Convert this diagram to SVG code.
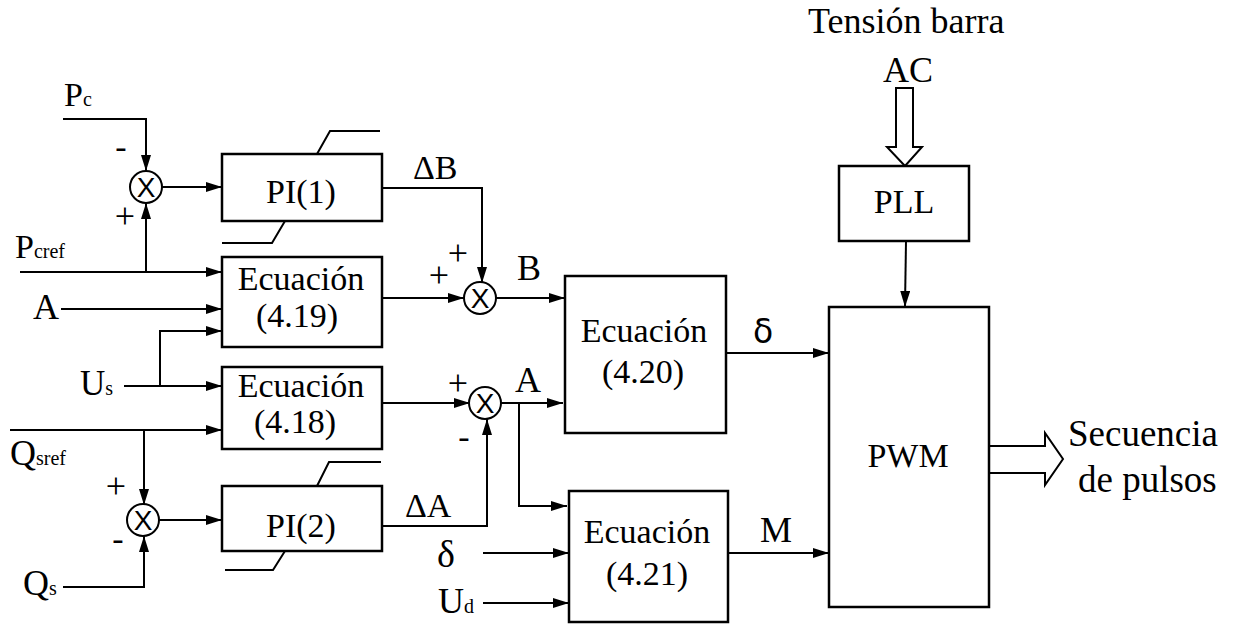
<svg xmlns="http://www.w3.org/2000/svg" width="1236" height="626" viewBox="0 0 1236 626">
<style>
.box{fill:#fff;stroke:#000;stroke-width:2.5}
.ln{fill:none;stroke:#000;stroke-width:2}
.sat{fill:none;stroke:#000;stroke-width:2}
.sum{fill:#fff;stroke:#000;stroke-width:2}
.t{font-family:"Liberation Serif","Times New Roman",serif;fill:#000}
.bt{font-family:"Liberation Serif","Times New Roman",serif;font-size:34px;fill:#000;text-anchor:middle}
.x{font-family:"Liberation Sans",Arial,sans-serif;font-size:28px;text-anchor:middle;fill:#000}
.sub{font-size:20px}
.hollow{fill:#fff;stroke:#000;stroke-width:2}
</style>
<defs>
<marker id="ah" markerUnits="userSpaceOnUse" markerWidth="16" markerHeight="10" viewBox="0 0 16 10" refX="16" refY="5" orient="auto">
<path d="M0,0 L16,5 L0,10 z" fill="#000"/>
</marker>
</defs>
<rect width="1236" height="626" fill="#fff"/>

<g id="connectors">
<polyline class="ln" points="63,119 146,119 146,171" marker-end="url(#ah)"/>
<line class="ln" x1="20" y1="272" x2="222" y2="272" marker-end="url(#ah)"/>
<line class="ln" x1="146" y1="272" x2="146" y2="203" marker-end="url(#ah)"/>
<line class="ln" x1="161" y1="187" x2="222" y2="187" marker-end="url(#ah)"/>
<line class="ln" x1="61" y1="309" x2="222" y2="309" marker-end="url(#ah)"/>
<line class="ln" x1="124" y1="386" x2="222" y2="386" marker-end="url(#ah)"/>
<polyline class="ln" points="160,386 160,331 222,331" marker-end="url(#ah)"/>
<line class="ln" x1="10" y1="430" x2="222" y2="430" marker-end="url(#ah)"/>
<line class="ln" x1="144" y1="430" x2="144" y2="505" marker-end="url(#ah)"/>
<polyline class="ln" points="63,587 144,587 144,536" marker-end="url(#ah)"/>
<line class="ln" x1="159" y1="520" x2="222" y2="520" marker-end="url(#ah)"/>
<polyline class="ln" points="382,188 482,188 482,283" marker-end="url(#ah)"/>
<line class="ln" x1="382" y1="298" x2="464" y2="298" marker-end="url(#ah)"/>
<line class="ln" x1="495" y1="298" x2="565" y2="298" marker-end="url(#ah)"/>
<line class="ln" x1="382" y1="403" x2="470" y2="403" marker-end="url(#ah)"/>
<line class="ln" x1="500" y1="403" x2="563" y2="403" marker-end="url(#ah)"/>
<polyline class="ln" points="519,403 519,506 567,506" marker-end="url(#ah)"/>
<polyline class="ln" points="382,526 487,526 487,419" marker-end="url(#ah)"/>
<line class="ln" x1="483" y1="553" x2="569" y2="553" marker-end="url(#ah)"/>
<line class="ln" x1="483" y1="603" x2="569" y2="603" marker-end="url(#ah)"/>
<line class="ln" x1="726" y1="353" x2="829" y2="353" marker-end="url(#ah)"/>
<line class="ln" x1="728" y1="553" x2="829" y2="553" marker-end="url(#ah)"/>
<line class="ln" x1="906" y1="241" x2="905" y2="307" marker-end="url(#ah)"/>
<path class="hollow" d="M896,88 H913 V147 H922 L905,166 L887,147 H896 Z"/>
<path class="hollow" d="M989,446 H1045 V433 L1063,459 L1045,485 V473 H989"/>
</g>

<g id="sum1"><circle class="sum" cx="146" cy="187" r="16"/><text class="x" x="146" y="197">X</text></g>
<g id="sum2"><circle class="sum" cx="143" cy="520" r="16"/><text class="x" x="143" y="530">X</text></g>
<g id="sum3"><circle class="sum" cx="480" cy="298" r="16"/><text class="x" x="480" y="308">X</text></g>
<g id="sum4"><circle class="sum" cx="485" cy="403" r="16"/><text class="x" x="485" y="413">X</text></g>

<g id="pi1">
<rect class="box" x="222" y="154" width="160" height="67"/>
<polyline class="sat" points="317,154 330,131 380,131"/>
<polyline class="sat" points="285,221 272,243 222,243"/>
<text class="bt" x="301" y="203">PI(1)</text>
</g>
<g id="pi2">
<rect class="box" x="222" y="486" width="160" height="65"/>
<polyline class="sat" points="317,486 329,462 381,462"/>
<polyline class="sat" points="285,551 273,570 225,570"/>
<text class="bt" x="301" y="537">PI(2)</text>
</g>
<g id="ec419">
<rect class="box" x="222" y="257" width="160" height="90"/>
<text class="bt" x="301" y="290">Ecuación</text>
<text class="bt" x="297" y="327">(4.19)</text>
</g>
<g id="ec418">
<rect class="box" x="222" y="367" width="160" height="82"/>
<text class="bt" x="301" y="397">Ecuación</text>
<text class="bt" x="295" y="433">(4.18)</text>
</g>
<g id="ec420">
<rect class="box" x="565" y="276" width="161" height="157"/>
<text class="bt" x="644" y="342">Ecuación</text>
<text class="bt" x="643" y="383">(4.20)</text>
</g>
<g id="ec421">
<rect class="box" x="569" y="491" width="159" height="131"/>
<text class="bt" x="647" y="543">Ecuación</text>
<text class="bt" x="647" y="585">(4.21)</text>
</g>
<g id="pll">
<rect class="box" x="839" y="166" width="130" height="75"/>
<text class="bt" x="904" y="213">PLL</text>
</g>
<g id="pwm">
<rect class="box" x="829" y="307" width="160" height="300"/>
<text class="bt" x="908" y="467">PWM</text>
</g>

<g id="labels" class="t">
<text x="64" y="106" font-size="34">P<tspan class="sub">c</tspan></text>
<text x="121" y="158" font-size="34" text-anchor="middle">-</text>
<text x="125" y="228" font-size="36" text-anchor="middle">+</text>
<text x="15" y="258" font-size="34">P<tspan class="sub">cref</tspan></text>
<text x="33" y="319" font-size="36">A</text>
<text x="80" y="395" font-size="35">U<tspan class="sub">s</tspan></text>
<text x="10" y="465" font-size="36">Q<tspan class="sub">sref</tspan></text>
<text x="116" y="498" font-size="36" text-anchor="middle">+</text>
<text x="118" y="550" font-size="34" text-anchor="middle">-</text>
<text x="23" y="595" font-size="36">Q<tspan class="sub">s</tspan></text>
<text x="413" y="179" font-size="34">ΔB</text>
<text x="439" y="287" font-size="36" text-anchor="middle">+</text>
<text x="458" y="265" font-size="36" text-anchor="middle">+</text>
<text x="517" y="280" font-size="36">B</text>
<text x="458" y="395" font-size="36" text-anchor="middle">+</text>
<text x="464" y="448" font-size="34" text-anchor="middle">-</text>
<text x="515" y="392" font-size="36">A</text>
<text x="405" y="517" font-size="34">ΔA</text>
<text x="437" y="567" font-size="38">δ</text>
<text x="438" y="613" font-size="36">U<tspan class="sub">d</tspan></text>
<text x="753" y="343" font-size="33" font-family="DejaVu Sans, sans-serif">δ</text>
<text x="760" y="542" font-size="36">M</text>
<text x="808" y="33" font-size="36">Tensión barra</text>
<text x="908" y="82" font-size="36" text-anchor="middle">AC</text>
<text x="1068" y="446" font-size="37">Secuencia</text>
<text x="1078" y="492" font-size="37">de pulsos</text>
</g>
</svg>
